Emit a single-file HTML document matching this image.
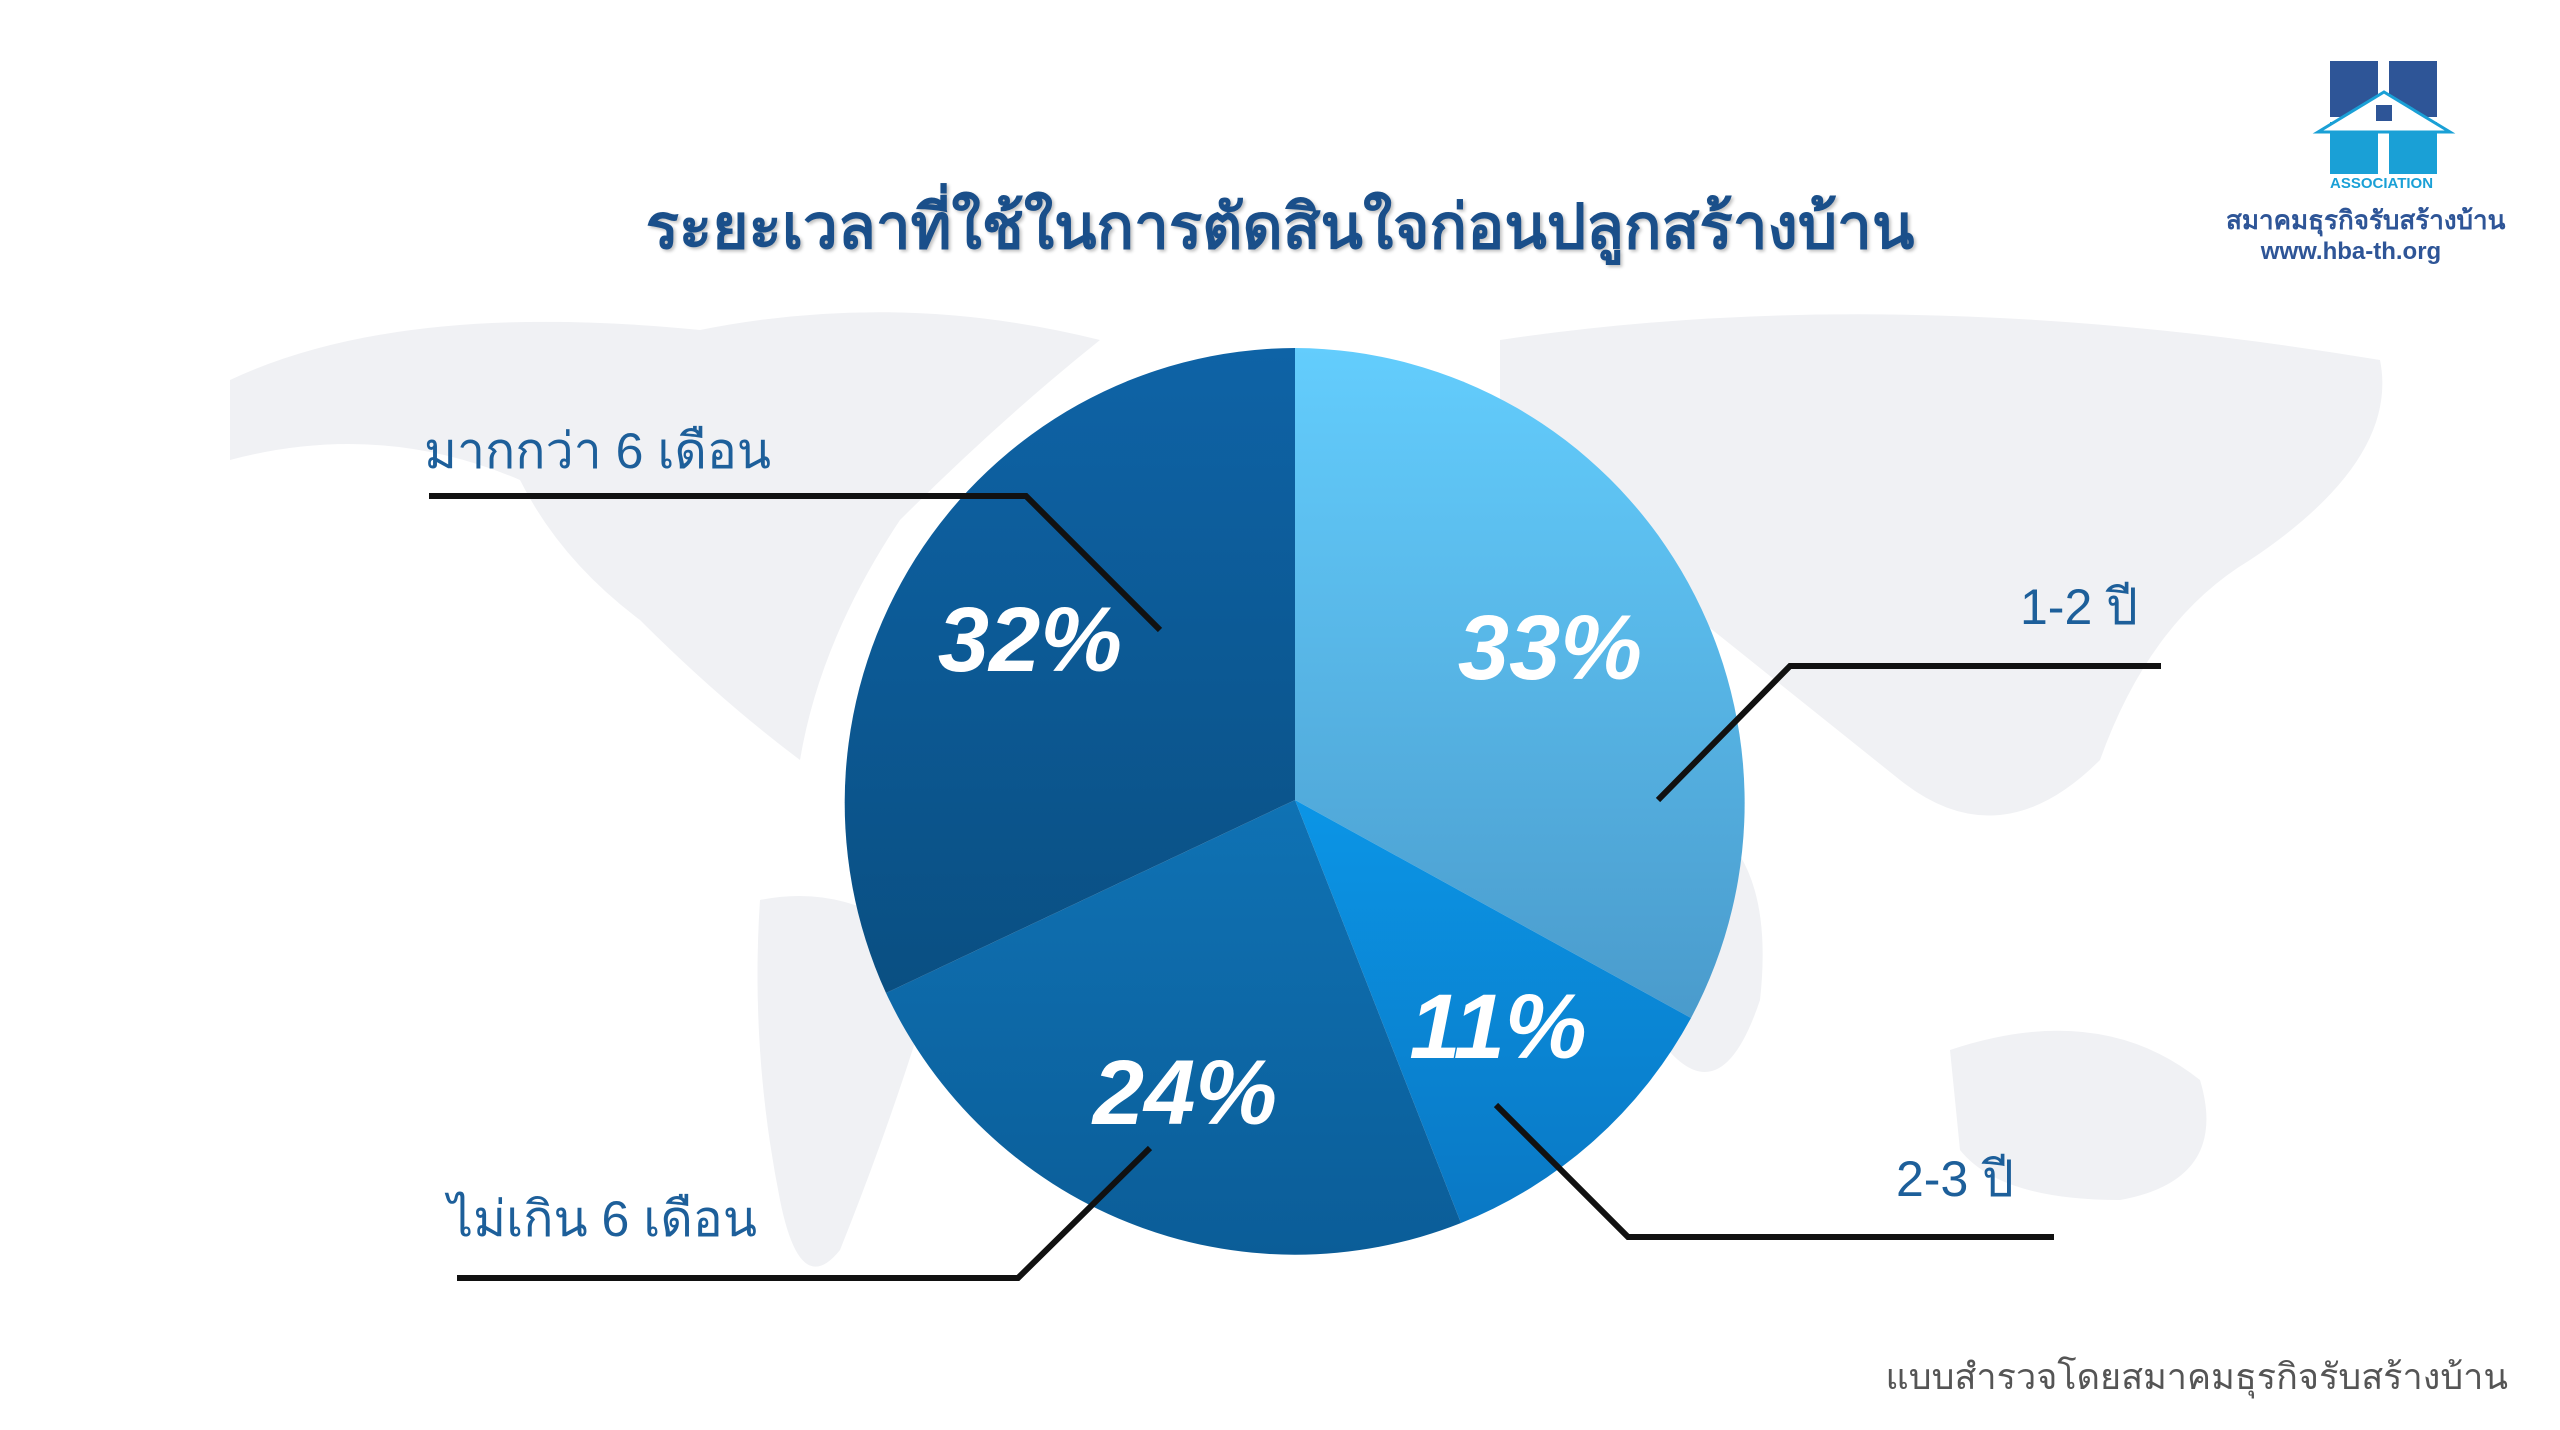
<!DOCTYPE html>
<html><head><meta charset="utf-8"><style>
html,body{margin:0;padding:0;background:#fff;}
body{width:2560px;height:1430px;position:relative;overflow:hidden;font-family:"Liberation Sans","Noto Sans CJK SC",sans-serif;}
.t{position:absolute;white-space:nowrap;}
</style></head><body>
<svg width="2560" height="1430" style="position:absolute;left:0;top:0">
<defs>
<linearGradient id="g1" x1="0" y1="0" x2="0" y2="1"><stop offset="0" stop-color="#63cdfd"/><stop offset="1" stop-color="#4a9bcc"/></linearGradient>
<linearGradient id="g2" x1="0" y1="0" x2="0" y2="1"><stop offset="0" stop-color="#0b95e6"/><stop offset="1" stop-color="#0a78c4"/></linearGradient>
<linearGradient id="g3" x1="0" y1="0" x2="0" y2="1"><stop offset="0" stop-color="#0f72b4"/><stop offset="1" stop-color="#0b5d98"/></linearGradient>
<linearGradient id="g4" x1="0" y1="0" x2="0" y2="1"><stop offset="0" stop-color="#0e63a6"/><stop offset="1" stop-color="#0a4f82"/></linearGradient>
</defs>
<g fill="#f0f1f4">
<path d="M230 380 Q400 300 700 330 Q900 290 1100 340 Q1000 420 900 520 Q820 640 800 760 Q720 700 640 620 Q560 560 520 480 Q380 420 230 460 Z"/>
<path d="M760 900 Q860 880 940 960 Q900 1100 840 1250 Q800 1300 780 1200 Q750 1050 760 900 Z"/>
<path d="M1500 340 Q1900 280 2380 360 Q2400 460 2250 560 Q2150 620 2100 760 Q2000 860 1900 780 Q1800 700 1700 620 Q1600 520 1500 480 Z"/>
<path d="M1950 1050 Q2100 1000 2200 1080 Q2230 1180 2120 1200 Q2000 1200 1960 1150 Z"/>
<path d="M1650 800 Q1780 820 1760 1000 Q1720 1120 1660 1040 Q1620 920 1650 800 Z"/>
</g>
<path d="M1295 800 L1295 348 A452 455 0 0 1 1691 1018 Z" fill="url(#g1)"/>
<path d="M1295 800 L1691 1018 A452 455 0 0 1 1461 1223 Z" fill="url(#g2)"/>
<path d="M1295 800 L1461 1223 A452 455 0 0 1 886 993 Z" fill="url(#g3)"/>
<path d="M1295 800 L886 993 A452 455 0 0 1 1295 348 Z" fill="url(#g4)"/>
<g stroke="#111" stroke-width="6" fill="none">
<polyline points="429,496 1026,496 1160,630"/>
<polyline points="2161,666 1790,666 1658,800"/>
<polyline points="2054,1237 1628,1237 1496,1105"/>
<polyline points="457,1278 1018,1278 1150,1148"/>
</g>
<rect x="2330" y="61" width="48" height="56" fill="#2e5597"/>
<rect x="2389" y="61" width="48" height="56" fill="#2e5597"/>
<rect x="2330" y="122" width="48" height="52" fill="#1aa0d6"/>
<rect x="2389" y="122" width="48" height="52" fill="#1aa0d6"/>
<polygon points="2318,132 2384,92 2450,132" fill="#fff" stroke="#1aa0d6" stroke-width="3"/>
<rect x="2376" y="105" width="16" height="16" fill="#2e5597"/>
<text x="2330" y="188" font-family="Liberation Sans" font-weight="bold" font-size="15" fill="#1aa0d6">ASSOCIATION</text>
</svg>
<div class="t" style="left:0;width:2560px;text-align:center;top:178px;font-size:62px;font-weight:bold;color:#1a4f8a;text-shadow:2px 2px 3px rgba(0,0,0,.25);">ระยะเวลาที่ใช้ในการตัดสินใจก่อนปลูกสร้างบ้าน</div>
<div class="t" style="left:2226px;top:200px;width:250px;text-align:center;font-size:26px;font-weight:bold;color:#2e5597;">สมาคมธุรกิจรับสร้างบ้าน</div>
<div class="t" style="left:2226px;top:238px;width:250px;text-align:center;font-size:24px;font-weight:bold;color:#2e5597;">www.hba-th.org</div>
<div class="t" style="left:424px;top:412px;font-size:50px;color:#1d5f9a;">มากกว่า 6 เดือน</div>
<div class="t" style="left:2020px;top:568px;font-size:50px;color:#1d5f9a;">1-2 ปี</div>
<div class="t" style="left:1896px;top:1140px;font-size:50px;color:#1d5f9a;">2-3 ปี</div>
<div class="t" style="left:448px;top:1180px;font-size:50px;color:#1d5f9a;">ไม่เกิน 6 เดือน</div>
<div class="t" style="left:1450px;top:596px;width:200px;text-align:center;font-size:92px;font-weight:bold;font-style:italic;color:#fff;">33%</div>
<div class="t" style="left:930px;top:588px;width:200px;text-align:center;font-size:92px;font-weight:bold;font-style:italic;color:#fff;">32%</div>
<div class="t" style="left:1398px;top:975px;width:200px;text-align:center;font-size:92px;font-weight:bold;font-style:italic;color:#fff;">11%</div>
<div class="t" style="left:1085px;top:1041px;width:200px;text-align:center;font-size:92px;font-weight:bold;font-style:italic;color:#fff;">24%</div>
<div class="t" style="right:52px;top:1348px;font-size:36px;color:#555;">แบบสำรวจโดยสมาคมธุรกิจรับสร้างบ้าน</div>
</body></html>
